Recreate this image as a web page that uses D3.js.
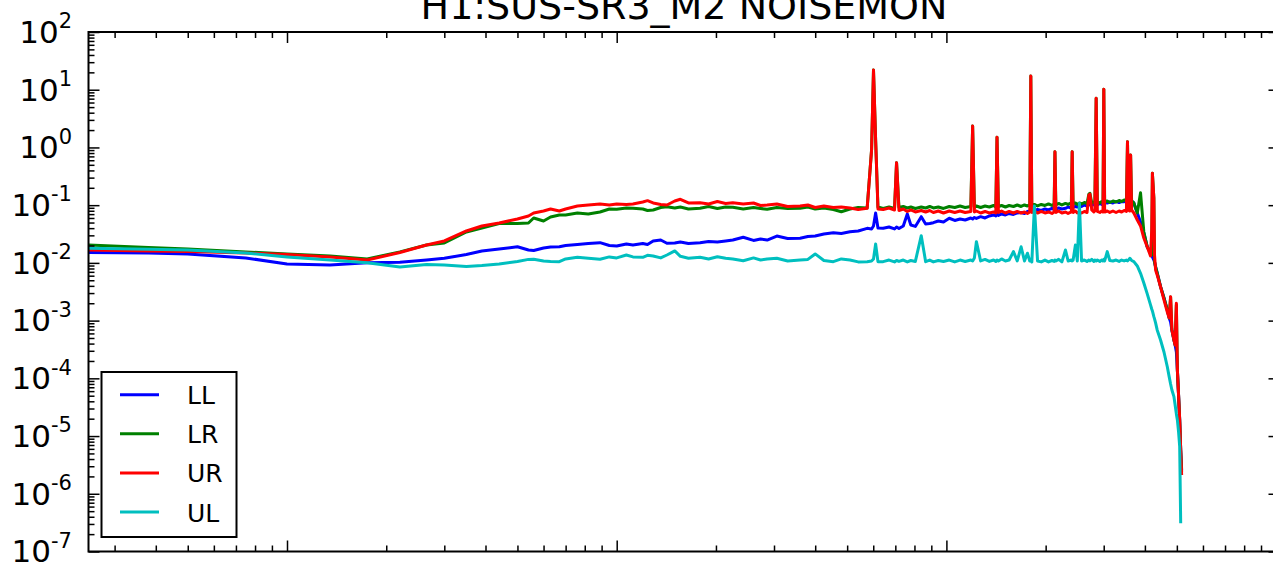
<!DOCTYPE html>
<html>
<head>
<meta charset="utf-8">
<script src="https://cdn.jsdelivr.net/npm/d3@7"></script>
<style>
  body { margin: 0; background: #fff; }
  svg { display: block; font-family: "DejaVu Sans", sans-serif; }
</style>
</head>
<body>
<div id="chart"></div>
<script>
// frequency grid (Hz), shared by the four channels
const freq = [
  // 0.25 - 9.5
  0.25, 0.38, 0.5, 0.75, 1.0, 1.35, 1.75, 2.2, 2.65, 3.0, 3.5, 3.9, 4.4, 5.0, 5.4, 5.6, 6.0, 6.3, 6.7, 7.0, 7.6, 8.2, 8.9, 9.5,
  // 10 - 57.5
  10, 10.7, 11.2, 12.0, 12.4, 12.9, 13.6, 14.2, 15.0, 15.6, 16.5, 17.9, 19.0, 20.2, 21.4, 22.5, 24.2, 26.0, 27.3, 28.6, 30.6, 33.0, 36.0, 38.0, 40.0, 42.5, 45.4, 48.0, 51.0, 54.0, 57.5,
  // 59.3 - 370.3
  59.3, 60.1, 61.0, 62.0, 64.3, 67.0, 69.6, 70.6, 71.8, 74.0,
  76.1, 78.0, 80.5, 83.9, 86.5, 89.0, 91.3, 94.5, 98.0, 102,
  106, 110, 114, 118.6, 120.1, 121.6, 123.3, 127, 131, 135,
  139, 141.2, 142.4, 143.8, 147, 151, 155, 159.7, 164, 168.5,
  172.5, 176.1, 179.0, 180.3, 181.6, 184.9, 189, 194, 199, 204,
  209, 212.2, 213.4, 214.8, 219, 224, 229.7, 234, 239.3, 240.7,
  242.3, 246.2, 249.5, 253.2, 257, 262, 267, 270.5, 272.5, 276,
  280, 282, 284.6, 287, 292, 296, 298.5, 300.2, 302, 307.5,
  313, 320, 327, 334, 340, 346, 351.5, 354.2, 356.5, 359.8,
  362, 364.5, 370.3,
  // roll-off
  379.3, 388, 397, 406.6, 416, 419.5, 421.5, 425.8, 427.8, 431, 435.8, 446.2, 457, 467.7, 474, 478.6, 483, 489.9, 494, 498.3, 501.8, 506, 510, 513.6, 517
];

const ampLL = [
  0.0151, 0.0148, 0.0143, 0.0122, 0.00957, 0.0092, 0.0101, 0.0103, 0.0112, 0.012, 0.014, 0.0161, 0.0174, 0.019, 0.0167, 0.0164, 0.0181, 0.0189, 0.019, 0.02, 0.0208, 0.0217, 0.0224, 0.02,
  0.0196, 0.0213, 0.0204, 0.0217, 0.0208, 0.024, 0.0249, 0.0219, 0.0221, 0.023, 0.0217, 0.0224, 0.0235, 0.023, 0.024, 0.0249, 0.0278, 0.0245, 0.0259, 0.0249, 0.0292, 0.0265, 0.0267, 0.0286, 0.0292, 0.0317, 0.0334, 0.0324, 0.0346, 0.0357, 0.0397,
  0.0387, 0.0436, 0.0733, 0.0403, 0.0398, 0.0419, 0.0387, 0.0419, 0.0395, 0.0436,
  0.0704, 0.0454, 0.0428, 0.0632, 0.0472, 0.0481, 0.0497, 0.0532, 0.0511, 0.0593,
  0.0543, 0.0576, 0.0554, 0.06, 0.0576, 0.0612, 0.0588, 0.0632, 0.06, 0.065,
  0.0676, 0.065, 0.0733, 0.0663, 0.0704, 0.0676, 0.0718, 0.069, 0.0733, 0.0747,
  0.0718, 0.0778, 0.0793, 0.0825, 0.0793, 0.0809, 0.0842, 0.0809, 0.0859, 0.0825,
  0.0877, 0.0842, 0.0877, 0.0859, 0.0894, 0.0859, 0.0883, 0.093, 0.0894, 0.093,
  0.0912, 0.0949, 0.093, 0.0987, 0.0949, 0.1007, 0.0968, 0.1007, 0.1028, 0.0987,
  0.1028, 0.1007, 0.1049, 0.1007, 0.107, 0.1028, 0.1091, 0.107, 0.1113, 0.1091,
  0.1135, 0.1091, 0.1158, 0.1113, 0.1158, 0.115, 0.1205, 0.1181, 0.123, 0.1181,
  0.1205, 0.1181, 0.1091,
  0.0732, 0.0511, 0.033, 0.019, 0.0148, 0.0137, 0.0127, 0.0112, 0.0104, 0.0085, 0.00669, 0.00387, 0.00247, 0.00153, 0.00111, 9.48e-4, 6.89e-4, 4.62e-4, 3.79e-4, 2.86e-4, 1.40e-4, 5.15e-5, 1.90e-5, 5.74e-6, 2.59e-6
];

const ampLR = [
  0.0204, 0.0185, 0.0174, 0.0155, 0.0143, 0.0132, 0.0117, 0.0155, 0.0204, 0.0221, 0.0343, 0.0403, 0.0481, 0.0481, 0.0491, 0.060, 0.0532, 0.0624, 0.0676, 0.0676, 0.0732, 0.0704, 0.0762, 0.0859,
  0.0849, 0.0894, 0.0883, 0.0859, 0.0809, 0.0825, 0.0912, 0.0942, 0.0894, 0.093, 0.0859, 0.0883, 0.0949, 0.0877, 0.093, 0.0918, 0.0859, 0.0912, 0.0877, 0.0849, 0.0912, 0.0877, 0.0883, 0.093, 0.0859, 0.0894, 0.0842, 0.0770, 0.0859, 0.0912, 0.0894,
  0.904, 22.0, 1.35, 0.093, 0.0877, 0.093, 0.0877, 0.545, 0.0912, 0.0949,
  0.0894, 0.093, 0.0877, 0.093, 0.0894, 0.0949, 0.0894, 0.093, 0.0877, 0.0949,
  0.0912, 0.0968, 0.0912, 0.0949, 2.35, 0.0912, 0.0968, 0.0912, 0.0968, 0.093,
  0.0987, 0.093, 1.5, 0.0949, 0.0987, 0.093, 0.0987, 0.0949, 0.1007, 0.0949,
  0.1007, 0.0968, 0.1007, 17.3, 0.0987, 0.1028, 0.0968, 0.1028, 0.0987, 0.1049,
  0.0987, 0.1049, 0.845, 0.1007, 0.107, 0.1007, 0.107, 0.1028, 0.1091, 0.845,
  0.1049, 0.1091, 0.1028, 0.1091, 0.1049, 0.1113, 0.107, 0.156, 0.16, 0.1091,
  0.1135, 0.1091, 7.1, 0.1135, 0.1091, 0.1158, 0.1113, 10.2, 0.1135, 0.1181,
  0.1113, 0.1181, 0.1135, 0.1205, 0.1158, 0.123, 0.1181, 1.26, 0.1205, 0.123,
  0.74, 0.1181, 0.1091,
  0.0732, 0.164, 0.0343, 0.019, 0.0148, 0.0137, 0.357, 0.133, 0.0104, 0.0085, 0.00669, 0.00387, 0.00247, 0.00153, 0.00111, 0.00257, 6.89e-4, 4.62e-4, 3.79e-4, 0.00187, 1.40e-4, 5.15e-5, 1.90e-5, 5.74e-6, 2.39e-6
];

const ampUR = [
  0.0167, 0.0161, 0.0158, 0.0148, 0.014, 0.0127, 0.0112, 0.0151, 0.0204, 0.024, 0.0357, 0.0436, 0.0491, 0.0576, 0.065, 0.0732, 0.0793, 0.0859, 0.0793, 0.0859, 0.0968, 0.1007, 0.1049, 0.1007,
  0.1049, 0.1028, 0.1049, 0.1135, 0.1196, 0.1091, 0.1028, 0.1007, 0.1181, 0.1264, 0.1091, 0.1104, 0.1049, 0.1158, 0.107, 0.1104, 0.1049, 0.1091, 0.0987, 0.1007, 0.1049, 0.0949, 0.0968, 0.1007, 0.0912, 0.0968, 0.0912, 0.093, 0.0894, 0.0842, 0.0883,
  0.904, 22.0, 1.35, 0.0859, 0.0842, 0.0894, 0.0825, 0.545, 0.0809, 0.0859,
  0.0778, 0.0825, 0.0762, 0.0809, 0.0762, 0.0809, 0.0747, 0.0793, 0.0732, 0.0793,
  0.0747, 0.0793, 0.0747, 0.0778, 2.35, 0.0762, 0.0793, 0.0732, 0.0778, 0.0732,
  0.0762, 0.0732, 1.5, 0.0747, 0.0793, 0.0732, 0.0778, 0.0732, 0.0778, 0.0732,
  0.0762, 0.0718, 0.0762, 17.3, 0.0747, 0.0793, 0.0732, 0.0778, 0.0732, 0.0762,
  0.0718, 0.0762, 0.845, 0.0747, 0.0793, 0.0732, 0.0762, 0.0718, 0.0762, 0.845,
  0.0747, 0.0793, 0.0732, 0.0762, 0.0732, 0.0778, 0.0747, 0.150, 0.156, 0.0825,
  0.0762, 0.0793, 7.1, 0.0778, 0.0747, 0.0793, 0.0762, 10.2, 0.0762, 0.0793,
  0.0747, 0.0793, 0.0747, 0.0793, 0.0762, 0.0809, 0.0778, 1.26, 0.0825, 0.0793,
  0.74, 0.0825, 0.0732,
  0.0554, 0.0436, 0.027, 0.0189, 0.0132, 0.0372, 0.357, 0.133, 0.0137, 0.00754, 0.00618, 0.00383, 0.00228, 0.00141, 0.00111, 0.0026, 6.89e-4, 4.62e-4, 3.79e-4, 0.0020, 1.40e-4, 5.15e-5, 1.90e-5, 5.74e-6, 2.12e-6
];

const ampUL = [
  0.0179, 0.0172, 0.0167, 0.0148, 0.0127, 0.0112, 0.0101, 0.0085, 0.0094, 0.0092, 0.0087, 0.009, 0.00957, 0.0106, 0.0115, 0.0116, 0.0108, 0.0106, 0.0105, 0.0117, 0.0125, 0.012, 0.0116, 0.0127,
  0.0122, 0.0137, 0.0127, 0.0125, 0.0135, 0.0132, 0.0122, 0.0137, 0.0161, 0.013, 0.012, 0.0125, 0.0117, 0.0128, 0.012, 0.0117, 0.0109, 0.0122, 0.0112, 0.0117, 0.012, 0.0108, 0.0112, 0.0115, 0.0143, 0.011, 0.0105, 0.0117, 0.0112, 0.0104, 0.0105,
  0.0108, 0.0117, 0.0213, 0.0105, 0.0105, 0.0112, 0.0104, 0.011, 0.0106, 0.0112,
  0.0104, 0.011, 0.0106, 0.0296, 0.0105, 0.0112, 0.0104, 0.011, 0.0106, 0.0112,
  0.0104, 0.0112, 0.0106, 0.0112, 0.0108, 0.0122, 0.0233, 0.0108, 0.0115, 0.0106,
  0.0112, 0.0106, 0.0112, 0.0108, 0.0117, 0.0108, 0.0112, 0.0157, 0.0108, 0.019,
  0.0108, 0.0147, 0.0108, 0.0112, 0.0104, 0.0968, 0.0108, 0.0104, 0.0112, 0.0104,
  0.011, 0.0106, 0.0112, 0.0108, 0.0115, 0.0104, 0.0167, 0.0108, 0.0112, 0.0108,
  0.0112, 0.0204, 0.0108, 0.108, 0.0108, 0.0112, 0.0106, 0.0112, 0.0108, 0.0115,
  0.0106, 0.0112, 0.0108, 0.0112, 0.0106, 0.0112, 0.0108, 0.0115, 0.0108, 0.0157,
  0.011, 0.0108, 0.0112, 0.0106, 0.0112, 0.0108, 0.0112, 0.0108, 0.0112, 0.012,
  0.0117, 0.011, 0.0105,
  0.00884, 0.0066, 0.00449, 0.0029, 0.00187, 0.00159, 0.00147, 0.00117, 0.00107, 9.11e-4, 6.89e-4, 4.62e-4, 2.86e-4, 1.59e-4, 1.06e-4, 7.98e-5, 6.29e-5, 4.82e-5, 3.46e-5, 2.42e-5, 1.90e-5, 1.18e-5, 6.55e-6, 3.09e-7, null
];

const seriesNames = ["LL", "LR", "UR", "UL"];
const seriesColors = ["#0000ff", "#008000", "#ff0000", "#00bfbf"];
const yMajor = [1e-7, 1e-6, 1e-5, 1e-4, 1e-3, 1e-2, 1e-1, 1e0, 1e1, 1e2];
const yExp = ["-7", "-6", "-5", "-4", "-3", "-2", "-1", "0", "1", "2"];
const xMajor = [1, 10, 100, 1000];
const titleText = "H1:SUS-SR3_M2 NOISEMON";

function display(){
	var width = 1273, height = 564;
	var left = 88.5, right = 1279.5, top = 32, bottom = 551.5;

	var svg = d3.select("#chart").append("svg")
		.attr("width", width)
		.attr("height", height);

	svg.append("rect").attr("width", width).attr("height", height).attr("fill", "#fff");

	var x = d3.scaleLog().domain([0.25, 1024]).range([left, right]);
	var y = d3.scaleLog().domain([1e-7, 1e2]).range([bottom, top]);

	// minor tick values, 2..9 per decade
	var xMinor = [], yMinor = [];
	for (var e = -1; e <= 3; e++) {
		for (var k = 2; k <= 9; k++) {
			var v = k * Math.pow(10, e);
			if (v > 0.25 && v < 1024) xMinor.push(v);
		}
	}
	for (var e2 = -7; e2 <= 1; e2++) {
		for (var k2 = 2; k2 <= 9; k2++) yMinor.push(k2 * Math.pow(10, e2));
	}

	// clip for the data lines
	svg.append("clipPath").attr("id", "plotclip")
		.append("rect").attr("x", left).attr("y", top)
		.attr("width", right - left).attr("height", bottom - top);

	var series = [ampLL, ampLR, ampUR, ampUL];
	var lenOk = series.every(a => a.length === freq.length);

	var line = d3.line()
		.defined(d => d[1] != null)
		.x(d => x(d[0]))
		.y(d => y(d[1]));

	var g = svg.append("g").attr("clip-path", "url(#plotclip)");
	series.forEach((amps, i) => {
		var pts = freq.map((f, j) => [f, amps[j]]);
		g.append("path")
			.attr("d", line(pts))
			.attr("fill", "none")
			.attr("stroke", seriesColors[i])
			.attr("stroke-width", 3)
			.attr("stroke-linejoin", "round");
	});

	// ticks pointing inward, on all four sides
	function ticks(axis, tx, ty, vals, size){
		var a = svg.append("g")
			.attr("transform", "translate(" + tx + "," + ty + ")")
			.call(axis.tickValues(vals).tickSize(-size).tickFormat(""));
		a.select(".domain").remove();
		a.selectAll("line").attr("stroke", "#000").attr("stroke-width", 1.5);
	}
	ticks(d3.axisBottom(x), 0, bottom, xMajor, 11);
	ticks(d3.axisBottom(x), 0, bottom, xMinor, 6);
	ticks(d3.axisTop(x), 0, top, xMajor, 11);
	ticks(d3.axisTop(x), 0, top, xMinor, 6);
	ticks(d3.axisLeft(y), left, 0, yMajor, 11);
	ticks(d3.axisLeft(y), left, 0, yMinor, 6);
	ticks(d3.axisRight(y), right, 0, yMajor, 11);
	ticks(d3.axisRight(y), right, 0, yMinor, 6);

	// frame
	svg.append("rect")
		.attr("x", left).attr("y", top)
		.attr("width", right - left).attr("height", bottom - top)
		.attr("fill", "none").attr("stroke", "#000").attr("stroke-width", 2);

	// y tick labels 10^n
	yMajor.forEach((v, i) => {
		var t = svg.append("text")
			.attr("x", 72)
			.attr("y", y(v) + 10.8)
			.attr("text-anchor", "end")
			.attr("fill", "#000")
			.style("font-size", "31px");
		t.append("tspan").text("10");
		t.append("tspan").attr("dy", -14.5).style("font-size", "21px").text(yExp[i]);
	});

	// title
	svg.append("text")
		.attr("x", (left + right) / 2)
		.attr("y", 19)
		.attr("text-anchor", "middle")
		.style("font-size", "38px")
		.attr("fill", "#000")
		.text(titleText);

	// legend
	var lg = svg.append("g");
	lg.append("rect")
		.attr("x", 101.5).attr("y", 372)
		.attr("width", 135).attr("height", 165)
		.attr("fill", "#fff").attr("stroke", "#000").attr("stroke-width", 2);
	seriesNames.forEach((name, i) => {
		var ly = 394.7 + i * 39.1;
		lg.append("line")
			.attr("x1", 120).attr("x2", 159)
			.attr("y1", ly).attr("y2", ly)
			.attr("stroke", seriesColors[i]).attr("stroke-width", 3);
		lg.append("text")
			.attr("x", 187).attr("y", ly + 9.5)
			.style("font-size", "25px")
			.attr("fill", "#000")
			.text(name);
	});

	if (!lenOk) {
		svg.append("text").attr("x", 400).attr("y", 300).attr("fill", "magenta")
			.style("font-size", "20px")
			.text("length mismatch " + series.map(a => a.length).join(",") + " / " + freq.length);
	}
}

display();
</script>
</body>
</html>
